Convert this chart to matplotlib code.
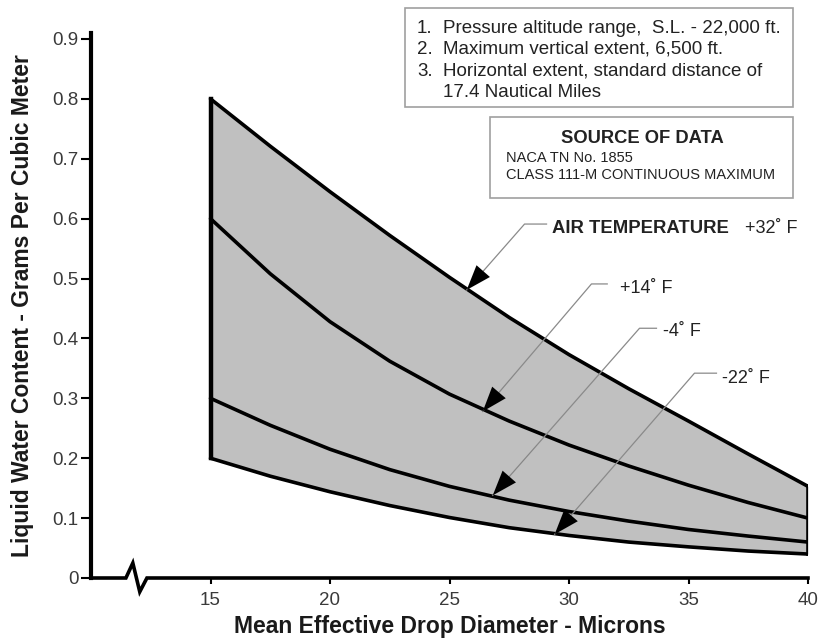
import matplotlib
matplotlib.use('Agg')
import matplotlib.pyplot as plt
from matplotlib.patches import Rectangle

# ---------------- data ----------------
diameter = [15, 17.5, 20, 22.5, 25, 27.5, 30, 32.5, 35, 37.5, 40]
lwc_p32 = [0.80, 0.721, 0.645, 0.572, 0.502, 0.435, 0.373, 0.316, 0.262, 0.207, 0.153]
lwc_p14 = [0.60, 0.508, 0.428, 0.362, 0.307, 0.262, 0.222, 0.187, 0.155, 0.126, 0.10]
lwc_m4 = [0.30, 0.255, 0.215, 0.181, 0.153, 0.13, 0.111, 0.095, 0.081, 0.07, 0.06]
lwc_m22 = [0.20, 0.17, 0.144, 0.121, 0.101, 0.084, 0.071, 0.06, 0.052, 0.045, 0.04]

y_ticks = [0, 0.1, 0.2, 0.3, 0.4, 0.5, 0.6, 0.7, 0.8, 0.9]
y_tick_labels = ["0", "0.1", "0.2", "0.3", "0.4", "0.5", "0.6", "0.7", "0.8", "0.9"]
x_ticks = [15, 20, 25, 30, 35, 40]
x_tick_labels = ["15", "20", "25", "30", "35", "40"]

x_label = "Mean Effective Drop Diameter - Microns"
y_label = "Liquid Water Content - Grams Per Cubic Meter"
notes = ["Pressure altitude range,  S.L. - 22,000 ft.",
         "Maximum vertical extent, 6,500 ft.",
         "Horizontal extent, standard distance of",
         "17.4 Nautical Miles"]
note_numbers = ["1.", "2.", "3.", ""]
source_title = "SOURCE OF DATA"
source_lines = ["NACA TN No. 1855", "CLASS 111-M CONTINUOUS MAXIMUM"]
temp_labels = ["+32\u02da F", "+14\u02da F", "-4\u02da F", "-22\u02da F"]
temp_title = "AIR TEMPERATURE"

# ---------------- figure ----------------
plt.rcParams['font.family'] = ['Liberation Sans', 'DejaVu Sans']
W, H = 818, 640
fig = plt.figure(figsize=(W / 100, H / 100), dpi=100)


def fx(px):
    return px / W


def fy(py):
    return 1 - py / H


ax = fig.add_axes([fx(91), fy(578), fx(808) - fx(91), fy(33) - fy(578)])
ax.set_xlim(10, 40)
ax.set_ylim(0, 0.91)
ax.patch.set_alpha(0)

for s in ['top', 'right', 'bottom']:
    ax.spines[s].set_visible(False)
ax.spines['left'].set_linewidth(3)

# shaded envelope
ax.fill_between(diameter, lwc_m22, lwc_p32, color='#c0c0c0', lw=0, zorder=1)
for series in (lwc_p32, lwc_p14, lwc_m4, lwc_m22):
    ax.plot(diameter, series, color='black', lw=2.6, zorder=3,
            solid_capstyle='round', solid_joinstyle='round')
ax.plot([diameter[0], diameter[0]], [lwc_m22[0], lwc_p32[0]], color='black', lw=3.2, zorder=3)
ax.plot([diameter[-1], diameter[-1]], [lwc_m22[-1], lwc_p32[-1]], color='black', lw=2.6, zorder=3)

# bottom axis with break symbol
ax.plot([10, 11.46, 11.75, 12.04, 12.34, 40], [0, 0, 0.025, -0.023, 0, 0],
        color='black', lw=2.6, clip_on=False, zorder=4, solid_joinstyle='miter')

ax.set_yticks(y_ticks)
ax.set_yticklabels(y_tick_labels)
ax.set_xticks(x_ticks)
ax.set_xticklabels(x_tick_labels)
ax.tick_params(axis='y', direction='out', length=7, width=1.5, pad=2,
               labelsize=13.5, labelcolor='#3a3a3a')
ax.tick_params(axis='x', direction='out', length=4, width=1.5, pad=6,
               labelsize=13.5, labelcolor='#3a3a3a')

fig.text(fx(23), fy(306), y_label, rotation=90, ha='center', va='center',
         fontsize=16.5, weight='bold', color='#1a1a1a')
fig.text(fx(450), fy(626), x_label, ha='center', va='center',
         fontsize=16.5, weight='bold', color='#1a1a1a')

# notes box
fig.patches.append(Rectangle((fx(405), fy(107)), fx(793) - fx(405), fy(8) - fy(107),
                             transform=fig.transFigure, fill=False, ec='#a0a0a0', lw=1.2))
baselines = [33, 54, 76, 97]
for num, line, b in zip(note_numbers, notes, baselines):
    if num:
        fig.text(fx(417), fy(b), num, ha='left', va='baseline', fontsize=13.5, color='#222222')
    fig.text(fx(443), fy(b), line, ha='left', va='baseline', fontsize=13.5, color='#222222')

# source box
fig.patches.append(Rectangle((fx(490), fy(198)), fx(793) - fx(490), fy(117) - fy(198),
                             transform=fig.transFigure, fill=False, ec='#a0a0a0', lw=1.2))
fig.text(fx(642), fy(143), source_title, ha='center', va='baseline', fontsize=13.2,
         weight='bold', color='#222222')
fig.text(fx(506), fy(162), source_lines[0], ha='left', va='baseline', fontsize=10.5, color='#222222')
fig.text(fx(506), fy(179), source_lines[1], ha='left', va='baseline', fontsize=10.5, color='#222222')

# temperature labels with leader arrows
fig.text(fx(552), fy(233), temp_title, ha='left', va='baseline', fontsize=13.3,
         weight='bold', color='#222222')
label_pos = [(745, 233), (620, 293), (663, 336), (722, 383)]
for t, (px, py) in zip(temp_labels, label_pos):
    fig.text(fx(px), fy(py), t, ha='left', va='baseline', fontsize=13, color='#222222')

leaders = [  # (hline x start, hline x end, y, tip x, tip y)
    (29.06, 28.14, 0.591, 25.72, 0.481),
    (31.60, 30.94, 0.491, 26.39, 0.278),
    (33.66, 32.95, 0.417, 26.81, 0.138),
    (36.17, 35.25, 0.342, 29.40, 0.073),
]
for x0, x1, yl, tx, ty in leaders:
    ax.plot([x0, x1, tx], [yl, yl, ty], color='#8a8a8a', lw=0.9, zorder=5)
    sx = tx + 0.3 * (x1 - tx)
    sy = ty + 0.3 * (yl - ty)
    ax.annotate('', xy=(tx, ty), xytext=(sx, sy), zorder=6,
                arrowprops=dict(arrowstyle='-|>,head_length=0.9,head_width=0.32',
                                mutation_scale=20, fc='black', ec='black', lw=0.01,
                                shrinkA=0, shrinkB=0))

fig.savefig('out.png', dpi=100)
